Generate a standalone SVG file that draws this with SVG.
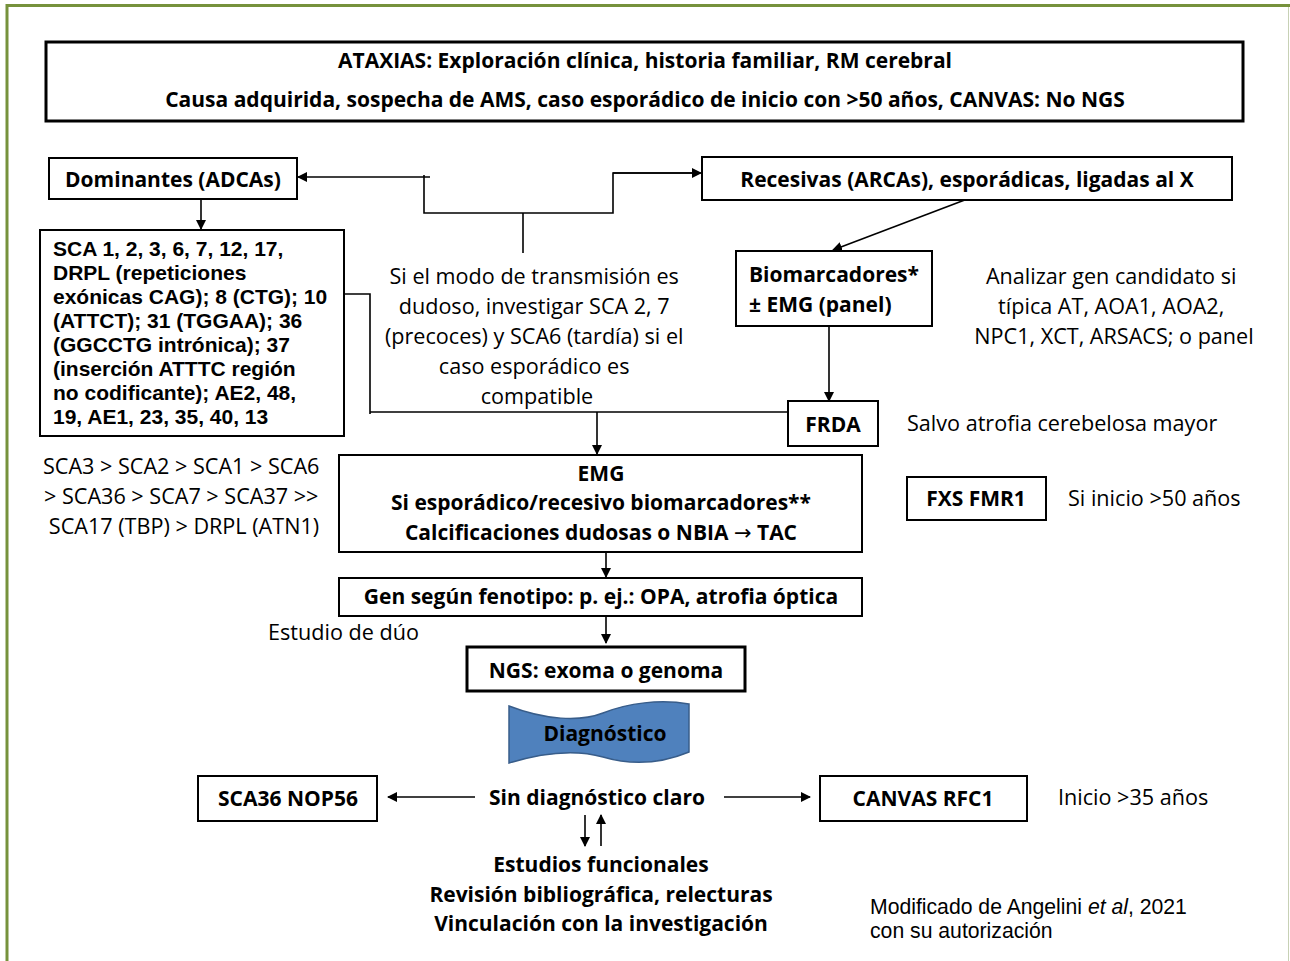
<svg xmlns="http://www.w3.org/2000/svg" width="1290" height="961" viewBox="0 0 1290 961">
<style>
text{font-family:"Open Sans","Liberation Sans",sans-serif;font-size:21.6px;fill:#000}
.b{font-weight:bold;font-size:21px}
.m{text-anchor:middle}
.lib{font-family:"Liberation Sans",Arial,sans-serif}
.box{fill:#fff;stroke:#000;stroke-width:2}
.tbox{fill:#fff;stroke:#000;stroke-width:3}
.ln{fill:none;stroke:#000;stroke-width:1.6}
.ar{fill:none;stroke:#000;stroke-width:1.6;marker-end:url(#ah)}
</style>
<defs>
<marker id="ah" markerWidth="10" markerHeight="10" refX="9" refY="5" orient="auto" markerUnits="userSpaceOnUse">
<path d="M0,0 L10,5 L0,10 Z" fill="#000"/>
</marker>
</defs>
<rect width="1290" height="961" fill="#fff"/>
<g id="frame">
<line x1="6" y1="5.5" x2="1290" y2="5.5" stroke="#76923C" stroke-width="3"/>
<line x1="7" y1="4" x2="7" y2="961" stroke="#76923C" stroke-width="3"/>
<line x1="1288.5" y1="7" x2="1288.5" y2="961" stroke="#c7d1b5" stroke-width="1"/>
</g>
<g id="connectors">
<path class="ar" d="M430,177 L298,177"/>
<path class="ln" d="M424,175 L424,213 L613,213 L613,173 L700,173"/>
<path class="ar" d="M613,173 L701,173"/>
<path class="ln" d="M523,213 L523,253"/>
<path class="ar" d="M970,198 L833,250"/>
<path class="ar" d="M829,326 L829,401"/>
<path class="ln" d="M344,294 L370,294 L370,414 M370,412 L788,412"/>
<path class="ar" d="M597,412 L597,454"/>
<path class="ar" d="M201,199 L201,229"/>
<path class="ar" d="M606,552 L606,577"/>
<path class="ar" d="M606,616 L606,643"/>
<path class="ar" d="M475,797 L388,797"/>
<path class="ar" d="M724,797 L810,797"/>
<path class="ar" d="M585,815 L585,846"/>
<path class="ar" d="M601,846 L601,815"/>
</g>
<g id="top">
<rect class="tbox" x="46" y="42" width="1197" height="79"/>
<text class="b m" x="645" y="68">ATAXIAS: Exploración clínica, historia familiar, RM cerebral</text>
<text class="b m" x="645" y="107">Causa adquirida, sospecha de AMS, caso esporádico de inicio con &gt;50 años, CANVAS: No NGS</text>
</g>
<g id="dominantes">
<rect class="box" x="49" y="158" width="248" height="41"/>
<text class="b m" x="173" y="187">Dominantes (ADCAs)</text>
</g>
<g id="recesivas">
<rect class="box" x="702" y="157" width="530" height="43"/>
<text class="b m" x="967" y="187">Recesivas (ARCAs), esporádicas, ligadas al X</text>
</g>
<g id="sca-list">
<rect class="box" x="40" y="230" width="304" height="206"/>
<text class="b lib" style="font-size:21px">
<tspan x="53" y="256">SCA 1, 2, 3, 6, 7, 12, 17,</tspan>
<tspan x="53" y="280">DRPL (repeticiones</tspan>
<tspan x="53" y="304">exónicas CAG); 8 (CTG); 10</tspan>
<tspan x="53" y="328">(ATTCT); 31 (TGGAA); 36</tspan>
<tspan x="53" y="352">(GGCCTG intrónica); 37</tspan>
<tspan x="53" y="376">(inserción ATTTC región</tspan>
<tspan x="53" y="400">no codificante); AE2, 48,</tspan>
<tspan x="53" y="424">19, AE1, 23, 35, 40, 13</tspan>
</text>
</g>
<g id="note-mode">
<text class="m">
<tspan x="537" y="284">Si el modo de transmisión es</tspan>
<tspan x="537" y="314">dudoso,  investigar SCA 2, 7</tspan>
<tspan x="537" y="344">(precoces) y SCA6 (tardía) si el</tspan>
<tspan x="537" y="374">caso esporádico es</tspan>
<tspan x="537" y="404">compatible</tspan>
</text>
</g>
<g id="biomarcadores">
<rect class="box" x="736" y="251" width="196" height="75"/>
<text class="b" x="749" y="282">Biomarcadores*</text>
<text class="b" x="749" y="312">± EMG (panel)</text>
</g>
<g id="note-candidate">
<text class="m">
<tspan x="1114" y="284">Analizar gen candidato si</tspan>
<tspan x="1114" y="314">típica AT, AOA1, AOA2,</tspan>
<tspan x="1114" y="344">NPC1, XCT, ARSACS; o panel</tspan>
</text>
</g>
<g id="frda">
<rect class="box" x="788" y="401" width="90" height="45"/>
<text class="b m" x="833" y="432">FRDA</text>
</g>
<text x="907" y="431">Salvo atrofia cerebelosa mayor</text>
<g id="note-order">
<text class="m">
<tspan x="184" y="474">SCA3 &gt;  SCA2 &gt; SCA1 &gt; SCA6</tspan>
<tspan x="184" y="504">&gt; SCA36 &gt; SCA7 &gt; SCA37 &gt;&gt;</tspan>
<tspan x="184" y="534">SCA17 (TBP) &gt; DRPL (ATN1)</tspan>
</text>
</g>
<g id="emg">
<rect class="box" x="339" y="455" width="523" height="97"/>
<text class="b m" x="601" y="481">EMG</text>
<text class="b m" x="601" y="510">Si esporádico/recesivo biomarcadores**</text>
<text class="b m" x="601" y="540">Calcificaciones dudosas o NBIA <tspan style="font-family:'DejaVu Sans',sans-serif;font-weight:normal">→</tspan> TAC</text>
</g>
<g id="fxs">
<rect class="box" x="907" y="477" width="139" height="43"/>
<text class="b m" x="976" y="506">FXS FMR1</text>
</g>
<text x="1068" y="506">Si inicio &gt;50 años</text>
<g id="gen">
<rect class="box" x="339" y="578" width="523" height="38"/>
<text class="b m" x="601" y="604">Gen según fenotipo: p. ej.: OPA, atrofia óptica</text>
</g>
<text x="268" y="640">Estudio de dúo</text>
<g id="ngs">
<rect class="tbox" x="467" y="647" width="278" height="44"/>
<text class="b m" x="606" y="678">NGS: exoma o genoma</text>
</g>
<g id="diagnostico">
<path d="M509,706 C545,720 580,722 603,713 C628,703 660,699 689,704 L689,752 C660,764 630,765 603,757 C578,750 545,752 509,763 Z" fill="#4F81BD" stroke="#385D8A" stroke-width="1.5"/>
<text class="b m" x="605" y="741">Diagnóstico</text>
</g>
<text class="b m" x="597" y="805">Sin diagnóstico claro</text>
<g id="sca36">
<rect class="box" x="198" y="776" width="179" height="45"/>
<text class="b m" x="288" y="806">SCA36 NOP56</text>
</g>
<g id="canvas">
<rect class="box" x="820" y="776" width="207" height="45"/>
<text class="b m" x="923" y="806">CANVAS RFC1</text>
</g>
<text x="1058" y="805">Inicio &gt;35 años</text>
<g id="bottom">
<text class="b m" x="601" y="872">Estudios funcionales</text>
<text class="b m" x="601" y="902">Revisión bibliográfica, relecturas</text>
<text class="b m" x="601" y="931">Vinculación con la investigación</text>
</g>
<g id="credit">
<text class="lib" style="font-size:21.2px" x="870" y="914">Modificado de Angelini <tspan font-style="italic">et al</tspan>, 2021</text>
<text class="lib" style="font-size:21.2px" x="870" y="938">con su autorización</text>
</g>
</svg>
